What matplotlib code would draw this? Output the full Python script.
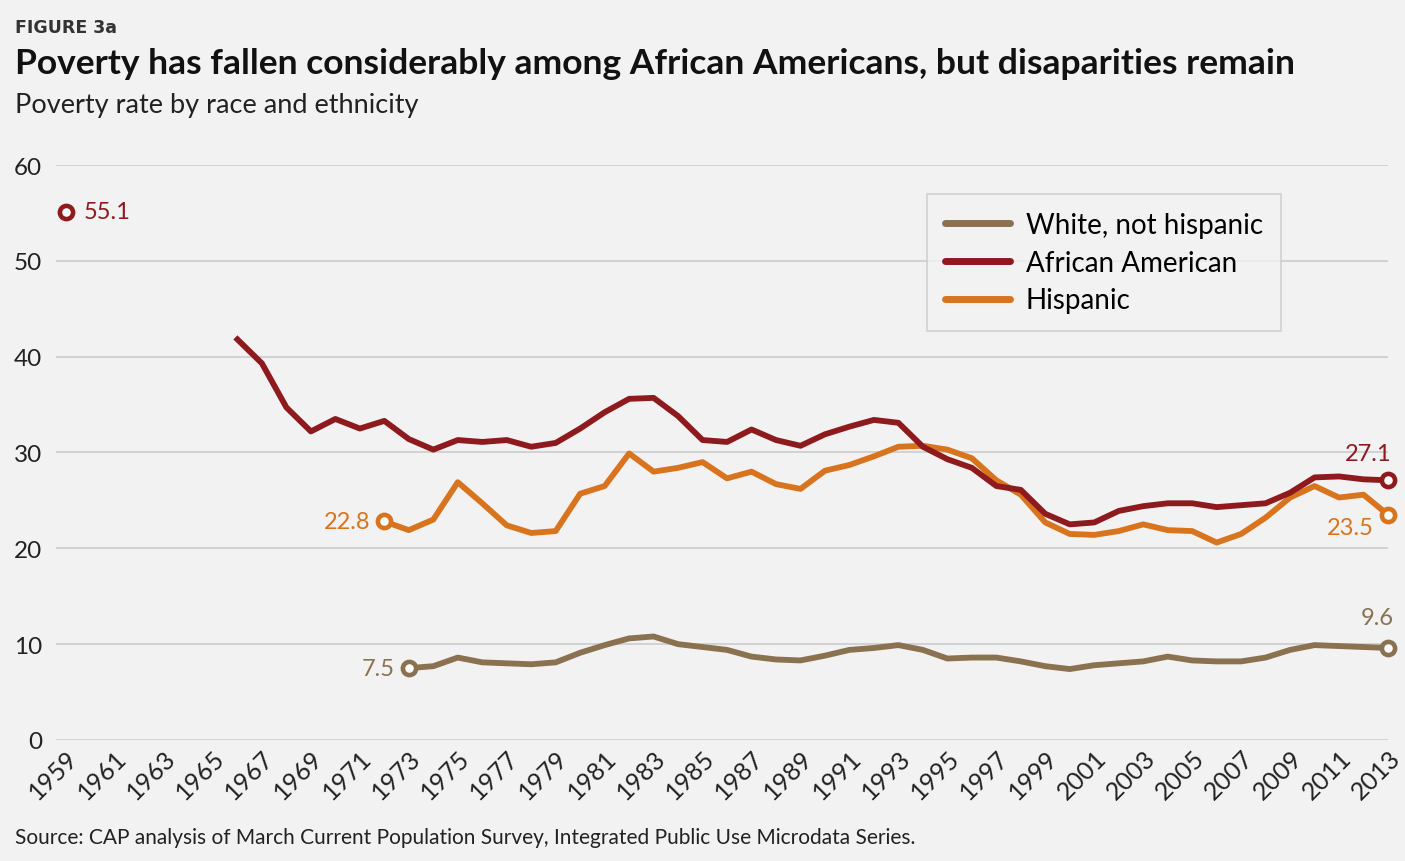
import numpy as np
import matplotlib
matplotlib.use("Agg")
import matplotlib.pyplot as plt
from matplotlib.lines import Line2D

plt.rcParams['font.family'] = ['Lato', 'DejaVu Sans']

# poverty rate by year (percent)
years_black = [1959] + list(range(1966, 2014))
black = [55.1,
         41.8, 39.3, 34.7, 32.2, 33.5, 32.5, 33.3, 31.4, 30.3, 31.3,
         31.1, 31.3, 30.6, 31.0, 32.5, 34.2, 35.6, 35.7, 33.8, 31.3,
         31.1, 32.4, 31.3, 30.7, 31.9, 32.7, 33.4, 33.1, 30.6, 29.3,
         28.4, 26.5, 26.1, 23.6, 22.5, 22.7, 23.9, 24.4, 24.7, 24.7,
         24.3, 24.5, 24.7, 25.8, 27.4, 27.5, 27.2, 27.1]

years_hisp = list(range(1972, 2014))
hisp = [22.8, 21.9, 23.0, 26.9, 24.7, 22.4, 21.6, 21.8, 25.7, 26.5,
        29.9, 28.0, 28.4, 29.0, 27.3, 28.0, 26.7, 26.2, 28.1, 28.7,
        29.6, 30.6, 30.7, 30.3, 29.4, 27.1, 25.6, 22.7, 21.5, 21.4,
        21.8, 22.5, 21.9, 21.8, 20.6, 21.5, 23.2, 25.3, 26.5, 25.3,
        25.6, 23.5]

years_white = list(range(1973, 2014))
white = [7.5, 7.7, 8.6, 8.1, 8.0, 7.9, 8.1, 9.1, 9.9, 10.6,
         10.8, 10.0, 9.7, 9.4, 8.7, 8.4, 8.3, 8.8, 9.4, 9.6,
         9.9, 9.4, 8.5, 8.6, 8.6, 8.2, 7.7, 7.4, 7.8, 8.0,
         8.2, 8.7, 8.3, 8.2, 8.2, 8.6, 9.4, 9.9, 9.8, 9.7,
         9.6]

xticks = list(range(1959, 2014, 2))
yticks = [0, 10, 20, 30, 40, 50, 60]

c_white = '#8a7150'
c_black = '#8e1a1e'
c_hisp = '#d9741e'
bg = '#f2f2f2'

fig = plt.figure(figsize=(14.05, 8.62), dpi=100, facecolor=bg)
ax = fig.add_axes([0.0399, 0.1404, 0.948, 0.667])
ax.set_facecolor(bg)

lw = 4.2
ax.plot(years_black[1:], black[1:], color=c_black, lw=lw, solid_joinstyle='round', clip_on=False, zorder=3)
ax.plot(years_hisp, hisp, color=c_hisp, lw=lw, solid_joinstyle='round', clip_on=False, zorder=2)
ax.plot(years_white, white, color=c_white, lw=lw, solid_joinstyle='round', clip_on=False, zorder=2)

mk = dict(marker='o', ms=9.5, mew=3.3, mfc='white', clip_on=False, zorder=5, ls='none')
ax.plot([years_black[0], years_black[-1]], [black[0], black[-1]], mec=c_black, **mk)
ax.plot([years_hisp[0], years_hisp[-1]], [hisp[0], hisp[-1]], mec=c_hisp, **mk)
ax.plot([years_white[0], years_white[-1]], [white[0], white[-1]], mec=c_white, **mk)

fs_lab = 17
lab = dict(textcoords='offset points', va='center', fontsize=fs_lab)
ax.annotate(f"{black[0]}", (years_black[0], black[0]), xytext=(13, 0), ha='left', color=c_black, **lab)
ax.annotate(f"{hisp[0]}", (years_hisp[0], hisp[0]), xytext=(-10, 0), ha='right', color=c_hisp, **lab)
ax.annotate(f"{white[0]}", (years_white[0], white[0]), xytext=(-10, 0), ha='right', color=c_white, **lab)
ax.annotate(f"{black[-1]}", (years_black[-1], black[-1]), xytext=(-14, 19), ha='center', color=c_black, **lab)
ax.annotate(f"{hisp[-1]}", (years_hisp[-1], hisp[-1]), xytext=(-27, -9), ha='center', color=c_hisp, **lab)
ax.annotate(f"{white[-1]}", (years_white[-1], white[-1]), xytext=(-8, 22), ha='center', color=c_white, **lab)

ax.set_xlim(1958.59, 2012.88)
ax.set_ylim(0, 60)
ax.set_yticks(yticks)
ax.set_xticks(xticks)
ax.set_xticklabels([str(y) for y in xticks], rotation=45, ha='right', rotation_mode='anchor')
ax.tick_params(axis='both', length=0, colors='#222222')
ax.tick_params(axis='y', pad=10, labelsize=17.5)
ax.tick_params(axis='x', pad=4, labelsize=18)
ax.grid(axis='y', color='#cfcfcf', lw=1.3)
ax.set_axisbelow(True)
for s in ax.spines.values():
    s.set_visible(False)

handles = [Line2D([], [], color=c_white, lw=5, solid_capstyle='round'),
           Line2D([], [], color=c_black, lw=5, solid_capstyle='round'),
           Line2D([], [], color=c_hisp, lw=5, solid_capstyle='round')]
leg = ax.legend(handles, ['White, not hispanic', 'African American', 'Hispanic'],
                loc='upper left', bbox_to_anchor=(0.654, 0.9496), fontsize=20,
                frameon=True, fancybox=False, handlelength=2.35, handletextpad=0.55,
                labelspacing=0.42, borderpad=0.65, borderaxespad=0)
leg.get_frame().set_facecolor(bg)
leg.get_frame().set_edgecolor('#cccccc')
leg.get_frame().set_linewidth(1.3)
leg.set_zorder(6)

fig.text(0.011, 0.967, 'FIGURE 3a', fontsize=12.5, fontweight='bold', color='#333333', va='center',
         family=['DejaVu Sans'])
fig.text(0.011, 0.926, 'Poverty has fallen considerably among African Americans, but disaparities remain',
         fontsize=25.5, fontweight='bold', color='#111111', va='center')
fig.text(0.011, 0.878, 'Poverty rate by race and ethnicity', fontsize=19.5, color='#222222', va='center')
fig.text(0.011, 0.028, 'Source: CAP analysis of March Current Population Survey, Integrated Public Use Microdata Series.',
         fontsize=15, color='#222222', va='center')

fig.savefig('out.png', dpi=100, facecolor=bg)
